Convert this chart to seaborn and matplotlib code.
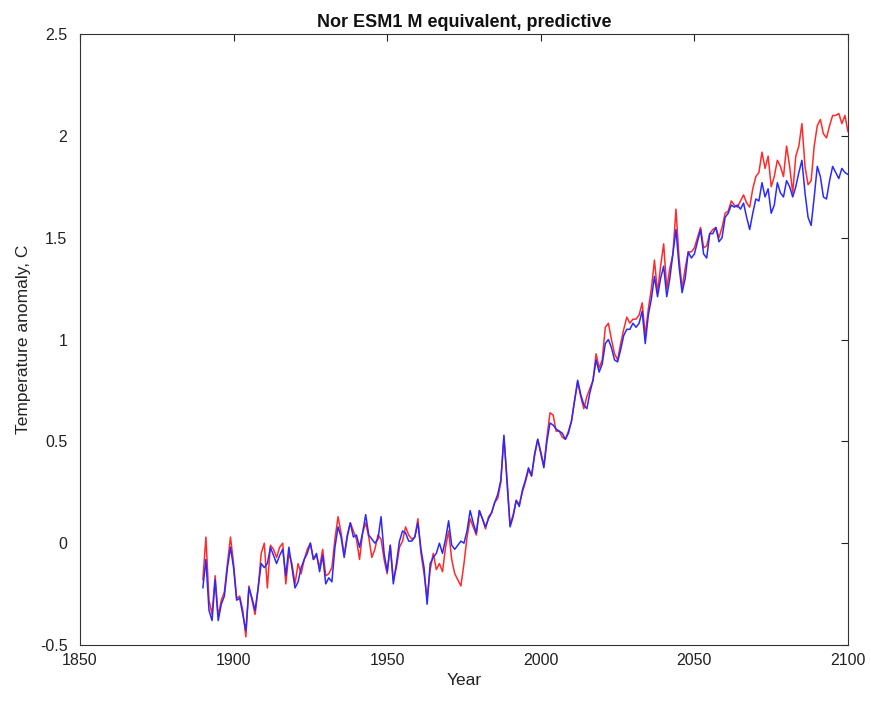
import numpy as np
import pandas as pd
import matplotlib
matplotlib.use("Agg")
import matplotlib.pyplot as plt
import seaborn as sns

years = list(range(1890, 2101))

red_values = [
    -0.18, 0.03, -0.28, -0.35, -0.16, -0.36, -0.28, -0.24, -0.10, 0.03,   # 1890-1899
    -0.10, -0.27, -0.26, -0.33, -0.46, -0.21, -0.28, -0.35, -0.22, -0.05,  # 1900-1909
    0.00, -0.22, -0.01, -0.03, -0.07, -0.02, 0.00, -0.20, -0.05, -0.10,    # 1910-1919
    -0.20, -0.10, -0.15, -0.08, -0.03, 0.00, -0.08, -0.06, -0.12, -0.03,   # 1920-1929
    -0.16, -0.15, -0.12, 0.02, 0.13, 0.05, -0.06, 0.04, 0.10, 0.06,        # 1930-1939
    0.02, -0.08, 0.05, 0.10, 0.03, -0.07, -0.03, 0.04, 0.02, -0.08,        # 1940-1949
    -0.15, -0.01, -0.18, -0.12, -0.02, 0.01, 0.08, 0.04, 0.02, 0.03,       # 1950-1959
    0.12, -0.05, -0.15, -0.27, -0.13, -0.05, -0.13, -0.10, -0.14, -0.02,   # 1960-1969
    0.06, -0.08, -0.15, -0.18, -0.21, -0.10, 0.03, 0.12, 0.08, 0.04,       # 1970-1979
    0.16, 0.12, 0.07, 0.13, 0.15, 0.20, 0.22, 0.30, 0.52, 0.32,            # 1980-1989
    0.09, 0.14, 0.21, 0.19, 0.25, 0.30, 0.36, 0.33, 0.43, 0.51,            # 1990-1999
    0.45, 0.38, 0.52, 0.64, 0.63, 0.55, 0.55, 0.52, 0.51, 0.55,            # 2000-2009
    0.60, 0.70, 0.79, 0.72, 0.66, 0.72, 0.76, 0.80, 0.93, 0.86,            # 2010-2019
    0.90, 1.06, 1.08, 1.00, 0.93, 0.90, 0.98, 1.05, 1.11, 1.08,            # 2020-2029
    1.10, 1.10, 1.12, 1.18, 1.02, 1.15, 1.25, 1.39, 1.23, 1.36,            # 2030-2039
    1.47, 1.25, 1.35, 1.42, 1.64, 1.40, 1.25, 1.35, 1.43, 1.43,            # 2040-2049
    1.45, 1.50, 1.55, 1.45, 1.46, 1.52, 1.54, 1.55, 1.50, 1.55,            # 2050-2059
    1.62, 1.63, 1.68, 1.66, 1.65, 1.68, 1.71, 1.67, 1.65, 1.74,            # 2060-2069
    1.80, 1.82, 1.92, 1.84, 1.90, 1.75, 1.80, 1.88, 1.85, 1.80,            # 2070-2079
    1.95, 1.85, 1.72, 1.90, 1.95, 2.06, 1.85, 1.76, 1.78, 1.95,            # 2080-2089
    2.05, 2.08, 2.01, 1.99, 2.05, 2.10, 2.10, 2.11, 2.06, 2.10,            # 2090-2099
    2.02,                                                                  # 2100
]

blue_values = [
    -0.22, -0.08, -0.33, -0.38, -0.18, -0.38, -0.30, -0.26, -0.12, -0.02,  # 1890-1899
    -0.12, -0.28, -0.27, -0.35, -0.43, -0.22, -0.27, -0.33, -0.22, -0.10,  # 1900-1909
    -0.12, -0.10, -0.02, -0.06, -0.10, -0.06, -0.03, -0.16, -0.02, -0.12,  # 1910-1919
    -0.22, -0.19, -0.12, -0.08, -0.05, 0.00, -0.08, -0.05, -0.14, -0.06,   # 1920-1929
    -0.20, -0.17, -0.19, -0.02, 0.08, 0.03, -0.07, 0.03, 0.10, 0.03,       # 1930-1939
    0.04, -0.02, 0.05, 0.14, 0.04, 0.02, 0.00, 0.02, 0.13, -0.05,          # 1940-1949
    -0.14, -0.01, -0.20, -0.10, 0.01, 0.06, 0.05, 0.01, 0.01, 0.03,        # 1950-1959
    0.10, -0.03, -0.12, -0.30, -0.10, -0.07, -0.05, 0.00, -0.05, 0.02,     # 1960-1969
    0.11, -0.01, -0.03, -0.01, 0.01, 0.00, 0.06, 0.16, 0.10, 0.05,         # 1970-1979
    0.16, 0.12, 0.08, 0.12, 0.15, 0.20, 0.24, 0.31, 0.53, 0.30,            # 1980-1989
    0.08, 0.13, 0.21, 0.18, 0.26, 0.31, 0.37, 0.33, 0.44, 0.51,            # 1990-1999
    0.44, 0.37, 0.50, 0.59, 0.58, 0.56, 0.55, 0.54, 0.51, 0.54,            # 2000-2009
    0.60, 0.70, 0.80, 0.73, 0.68, 0.66, 0.74, 0.80, 0.90, 0.84,            # 2010-2019
    0.88, 0.98, 1.00, 0.96, 0.90, 0.89, 0.95, 1.02, 1.05, 1.05,            # 2020-2029
    1.08, 1.06, 1.08, 1.14, 0.98, 1.12, 1.20, 1.31, 1.21, 1.30,            # 2030-2039
    1.36, 1.21, 1.30, 1.42, 1.54, 1.36, 1.23, 1.30, 1.43, 1.40,            # 2040-2049
    1.42, 1.48, 1.54, 1.42, 1.40, 1.52, 1.52, 1.55, 1.48, 1.50,            # 2050-2059
    1.60, 1.62, 1.66, 1.65, 1.66, 1.64, 1.67, 1.60, 1.54, 1.62,            # 2060-2069
    1.69, 1.68, 1.77, 1.70, 1.74, 1.62, 1.66, 1.77, 1.72, 1.70,            # 2070-2079
    1.78, 1.75, 1.70, 1.75, 1.82, 1.88, 1.72, 1.60, 1.56, 1.70,            # 2080-2089
    1.85, 1.80, 1.70, 1.69, 1.78, 1.85, 1.82, 1.79, 1.84, 1.82,            # 2090-2099
    1.81,                                                                  # 2100
]

x_ticks = [1850, 1900, 1950, 2000, 2050, 2100]
y_ticks = [-0.5, 0, 0.5, 1, 1.5, 2, 2.5]
y_tick_labels = ["-0.5", "0", "0.5", "1", "1.5", "2", "2.5"]
title = "Nor ESM1 M equivalent, predictive"
x_label = "Year"
y_label = "Temperature anomaly, C"

df = pd.DataFrame({
    "Year": years * 2,
    "Anomaly": red_values + blue_values,
    "series": ["red"] * len(years) + ["blue"] * len(years),
})

sns.set_style("white")
plt.rcParams["font.family"] = ["Liberation Sans", "DejaVu Sans"]

fig = plt.figure(figsize=(8.71, 7.04), dpi=100)
ax = fig.add_axes([0.0918, 0.0838, 0.8818, 0.8679])

sns.lineplot(data=df, x="Year", y="Anomaly", hue="series",
             palette={"red": "#ff2a2a", "blue": "#2a2aff"},
             hue_order=["red", "blue"], linewidth=1.1, legend=False, ax=ax)

ax.set_xlim(1850, 2100)
ax.set_ylim(-0.5, 2.5)
ax.set_xticks(x_ticks)
ax.set_xticklabels([str(t) for t in x_ticks])
ax.set_yticks(y_ticks)
ax.set_yticklabels(y_tick_labels)
ax.tick_params(direction="in", length=5, width=0.8, top=True, right=True,
               labelsize=11.5, colors="#222222")
ax.tick_params(axis="y", pad=9)
ax.tick_params(axis="x", pad=6)
for s in ax.spines.values():
    s.set_color("#333333")
    s.set_linewidth(0.8)
    s.set_visible(True)

ax.set_xlabel(x_label, fontsize=12.5, color="#222222", labelpad=3)
ax.set_ylabel(y_label, fontsize=12.5, color="#222222", labelpad=6)
ax.set_title(title, fontsize=13, fontweight="bold", color="#111111", pad=5)

fig.savefig("out.png", dpi=100)
